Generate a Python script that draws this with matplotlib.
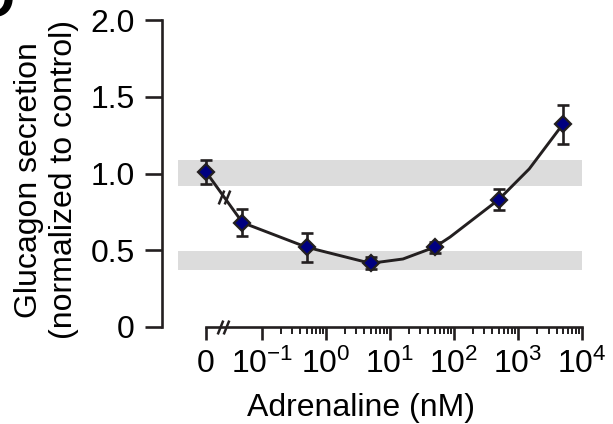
import matplotlib
matplotlib.use("Agg")
import matplotlib.pyplot as plt
import numpy as np
from matplotlib.ticker import FixedLocator, FixedFormatter, NullFormatter
from matplotlib.transforms import offset_copy

plt.rcParams['font.family'] = ['Liberation Sans', 'DejaVu Sans']
plt.rcParams['mathtext.fontset'] = 'custom'
plt.rcParams['mathtext.rm'] = 'Liberation Sans'
plt.rcParams['mathtext.default'] = 'regular'

# Adrenaline dose response (mean +/- SEM)
conc_nM = [0, 0.05, 0.5, 5, 50, 500, 5000]
secretion = [1.01, 0.68, 0.52, 0.415, 0.52, 0.83, 1.32]
sem = [0.08, 0.09, 0.095, 0.04, 0.035, 0.07, 0.125]

# Fitted curve through the adrenaline-treated groups
fit_conc = [0.05, 0.5, 5, 16, 50, 87, 500, 1500, 5000]
fit_val = [0.68, 0.52, 0.415, 0.443, 0.52, 0.586, 0.83, 1.03, 1.32]

# Shaded reference ranges (control level and low level)
band_control = (0.92, 1.09)
band_low = (0.37, 0.495)

x_major = [1e-1, 1e0, 1e1, 1e2, 1e3, 1e4]
x_labels = ['0', '$10^{-1}$', '$10^{0}$', '$10^{1}$', '$10^{2}$', '$10^{3}$', '$10^{4}$']
y_ticks = [0, 0.5, 1.0, 1.5, 2.0]
y_labels = ['0', '0.5', '1.0', '1.5', '2.0']

ZERO_POS = 10 ** -1.87   # log-axis position used for the 0 nM control
BAND_START = 10 ** -2.31
FS = 23

ink = '#231f20'

fig = plt.figure(figsize=(6.13, 4.24), dpi=100)
ax = fig.add_axes([161.7 / 613, (424 - 327) / 424, (583.3 - 161.7) / 613, 307 / 424])
ax.set_xscale('log')
ax.set_xlim(10 ** -2.5625, 10 ** 4.02)
ax.set_ylim(0, 2.0)

for lo, hi in (band_control, band_low):
    ax.fill_between([BAND_START, 1e4], lo, hi, color='#dcdcdc', lw=0, zorder=0)

px = [ZERO_POS if c == 0 else c for c in conc_nM]

# control -> first dose segment (broken axis)
ax.plot(px[:2], secretion[:2], color=ink, lw=2.1, zorder=2, solid_capstyle='butt')
ax.plot(fit_conc, fit_val, color=ink, lw=2.1, zorder=2)

ax.errorbar(px, secretion, yerr=sem, fmt='none', ecolor=ink, elinewidth=1.9,
            capsize=4.5, capthick=1.9, zorder=3)
ax.plot(px, secretion, 'D', ms=8.2, mfc='#000080', mec=ink, mew=1.6, zorder=4,
        clip_on=False)

# "//" break symbols
slash = [(-0.4, -1.0), (0.4, 1.0)]
def draw_break(x, y, size):
    for dx in (-3, 3):
        tr = offset_copy(ax.transData, fig=fig, x=dx, y=0, units='dots')
        ax.plot([x], [y], marker=slash, ms=size, mew=1.8, color=ink,
                transform=tr, clip_on=False, zorder=5)

lx0, lx1 = np.log10(px[0]), np.log10(px[1])
draw_break(10 ** ((lx0 + lx1) / 2), (secretion[0] + secretion[1]) / 2, 10)
draw_break(10 ** (lx0 + 0.3 * (-1 - lx0)), 0, 10)

for s in ('top', 'right'):
    ax.spines[s].set_visible(False)
ax.spines['left'].set_bounds(0, 2.0)
ax.spines['bottom'].set_bounds(ZERO_POS, 1e4)
for s in ('left', 'bottom'):
    ax.spines[s].set_linewidth(1.9)
    ax.spines[s].set_color(ink)

ax.yaxis.set_major_locator(FixedLocator(y_ticks))
ax.yaxis.set_major_formatter(FixedFormatter(y_labels))
ax.xaxis.set_major_locator(FixedLocator([ZERO_POS] + x_major))
ax.xaxis.set_major_formatter(FixedFormatter(x_labels))
minor = [k * 10.0 ** n for n in range(-1, 4) for k in range(2, 10)]
ax.xaxis.set_minor_locator(FixedLocator(minor))
ax.xaxis.set_minor_formatter(NullFormatter())

ax.tick_params(axis='y', which='major', direction='out', length=12.5, width=1.9,
               color=ink, labelsize=FS, pad=7)
ax.tick_params(axis='x', which='major', direction='out', length=9.5, width=1.9,
               color=ink, labelsize=FS, pad=6)
ax.tick_params(axis='x', which='minor', direction='out', length=5, width=1.4,
               color=ink)

ax.set_xlabel('Adrenaline (nM)', fontsize=FS)
ax.xaxis.set_label_coords(0.473, -0.215)
ax.set_ylabel('Glucagon secretion\n(normalized to control)', fontsize=FS,
              linespacing=1.22)
ax.yaxis.set_label_coords(-0.195, 0.48)

fig.text(14 / 613, 1 - 17 / 424, 'D', ha='right', va='baseline', fontsize=40,
         fontweight='bold')

fig.savefig('out.png', dpi=100)
